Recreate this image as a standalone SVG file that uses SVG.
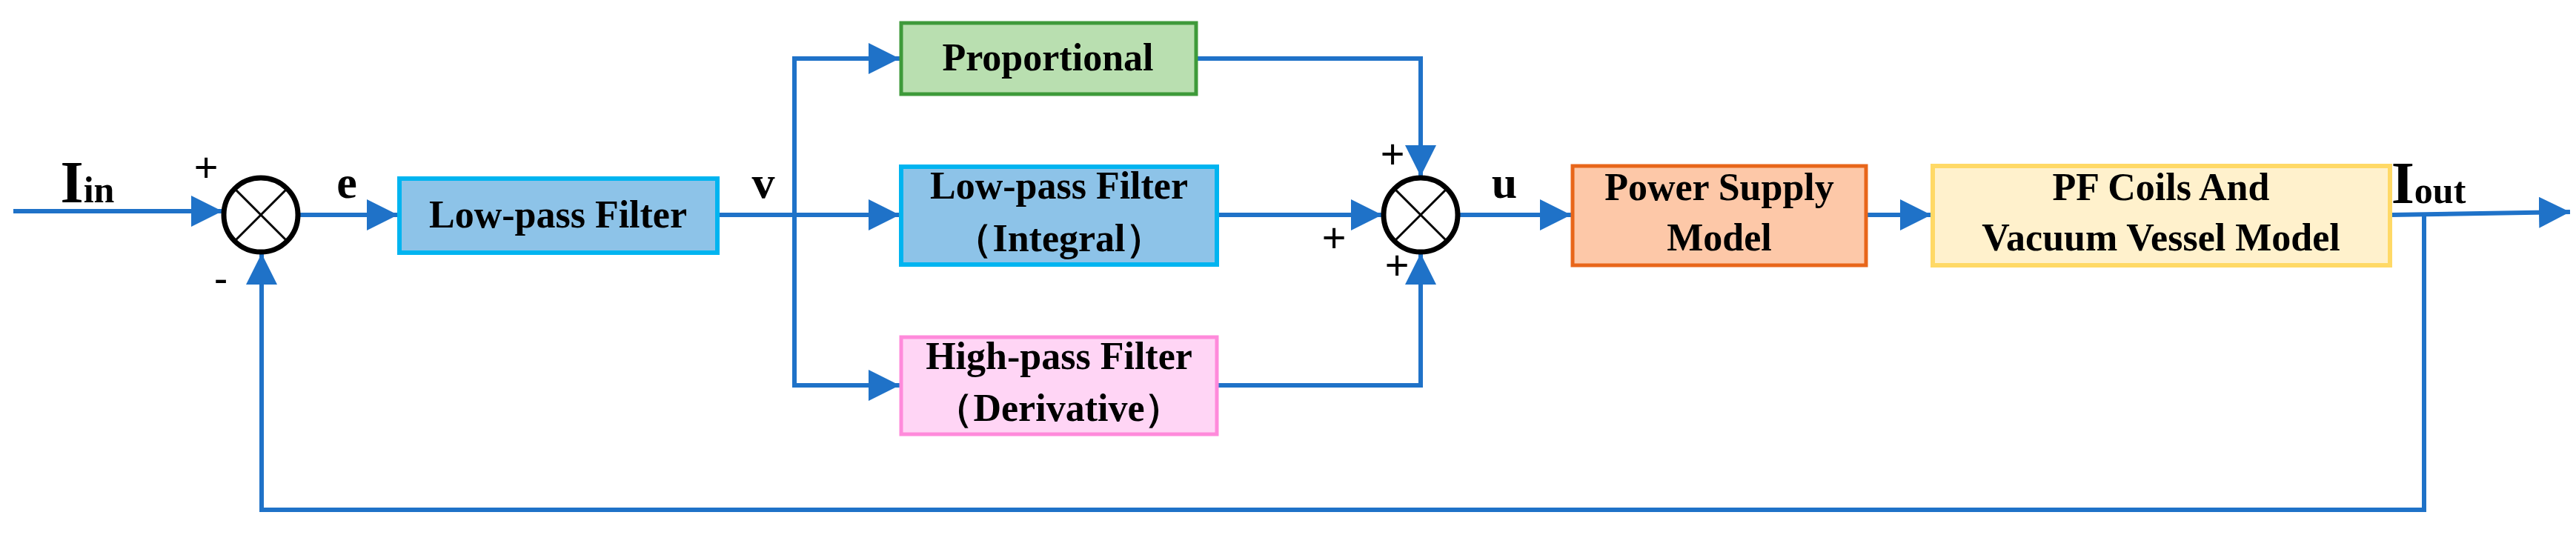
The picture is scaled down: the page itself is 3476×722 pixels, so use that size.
<svg xmlns="http://www.w3.org/2000/svg" width="3476" height="722" viewBox="0 0 3476 722">
<style>
.ln{fill:none;stroke:#1F72C8;stroke-width:6;stroke-linejoin:miter}
.t{font-family:"Liberation Serif","Times New Roman",serif;font-weight:bold;fill:#000;text-anchor:middle}
.bt{font-size:52px}
.lb{font-size:62px}
.pm{font-family:"Liberation Sans",Arial,sans-serif;font-size:56px;fill:#000;text-anchor:middle}
.sum circle{fill:#fff;stroke:#000;stroke-width:7}
.sum line{stroke:#000;stroke-width:3}
</style>
<defs>
<marker id="ah" viewBox="0 0 10 10" refX="10" refY="5" markerWidth="7" markerHeight="7" orient="auto"><path d="M0,0L10,5L0,10z" fill="#1F72C8"/></marker>
</defs>
<g id="connectors">
<path class="ln" d="M18,285H300" marker-end="url(#ah)"/>
<path class="ln" d="M404,290H537" marker-end="url(#ah)"/>
<path class="ln" d="M970,290H1214" marker-end="url(#ah)"/>
<path class="ln" d="M1072,290V79H1214" marker-end="url(#ah)"/>
<path class="ln" d="M1072,290V520H1214" marker-end="url(#ah)"/>
<path class="ln" d="M1616,79H1917V238" marker-end="url(#ah)"/>
<path class="ln" d="M1644,290H1865" marker-end="url(#ah)"/>
<path class="ln" d="M1644,520H1917V342" marker-end="url(#ah)"/>
<path class="ln" d="M1969,290H2120" marker-end="url(#ah)"/>
<path class="ln" d="M2520,290H2606" marker-end="url(#ah)"/>
<path class="ln" d="M3227,290L3468,286" marker-end="url(#ah)"/>
<path class="ln" d="M3271,290V688H353V342" marker-end="url(#ah)"/>
</g>
<g id="sum1" class="sum"><circle cx="352" cy="290" r="50"/><line x1="317" y1="255" x2="387" y2="325"/><line x1="387" y1="255" x2="317" y2="325"/></g>
<g id="sum2" class="sum"><circle cx="1917" cy="290" r="50"/><line x1="1882" y1="255" x2="1952" y2="325"/><line x1="1952" y1="255" x2="1882" y2="325"/></g>
<g id="lpf1"><rect x="539" y="241" width="429" height="100" fill="#8DC3E8" stroke="#00B4F0" stroke-width="6"/><text class="t bt" x="753" y="307">Low-pass Filter</text></g>
<g id="prop"><rect x="1216" y="31" width="398" height="96" fill="#B9DFB0" stroke="#3E9A3A" stroke-width="5"/><text class="t bt" x="1414" y="95">Proportional</text></g>
<g id="lpf2"><rect x="1216" y="225" width="426" height="132" fill="#8DC3E8" stroke="#00B4F0" stroke-width="6"/><text class="t bt" x="1429" y="268">Low-pass Filter</text><text class="t bt" x="1429" y="339">（Integral）</text></g>
<g id="hpf"><rect x="1216" y="455" width="426" height="131" fill="#FFD5F5" stroke="#FF8ADB" stroke-width="5"/><text class="t bt" x="1429" y="498">High-pass Filter</text><text class="t bt" x="1429" y="568">（Derivative）</text></g>
<g id="power"><rect x="2122" y="224" width="396" height="134" fill="#FDC8A8" stroke="#E8661A" stroke-width="5"/><text class="t bt" x="2320" y="270">Power Supply</text><text class="t bt" x="2320" y="338">Model</text></g>
<g id="pf"><rect x="2608" y="224" width="617" height="134" fill="#FFF1CC" stroke="#FFD966" stroke-width="6"/><text class="t bt" x="2916" y="270">PF Coils And</text><text class="t bt" x="2916" y="338">Vacuum Vessel Model</text></g>
<g id="labels">
<text class="t" x="118" y="273" font-size="80" text-anchor="start">I<tspan font-size="50">in</tspan></text>
<text class="pm" x="278" y="245">+</text>
<text class="pm" x="298" y="395">-</text>
<text class="t lb" x="468" y="267">e</text>
<text class="t lb" x="1030" y="267">v</text>
<text class="t lb" x="2030" y="267">u</text>
<text class="pm" x="1879" y="227">+</text>
<text class="pm" x="1800" y="340">+</text>
<text class="pm" x="1885" y="377">+</text>
<text class="t" x="3277" y="274" font-size="80" text-anchor="start">I<tspan font-size="50">out</tspan></text>
</g>
</svg>
